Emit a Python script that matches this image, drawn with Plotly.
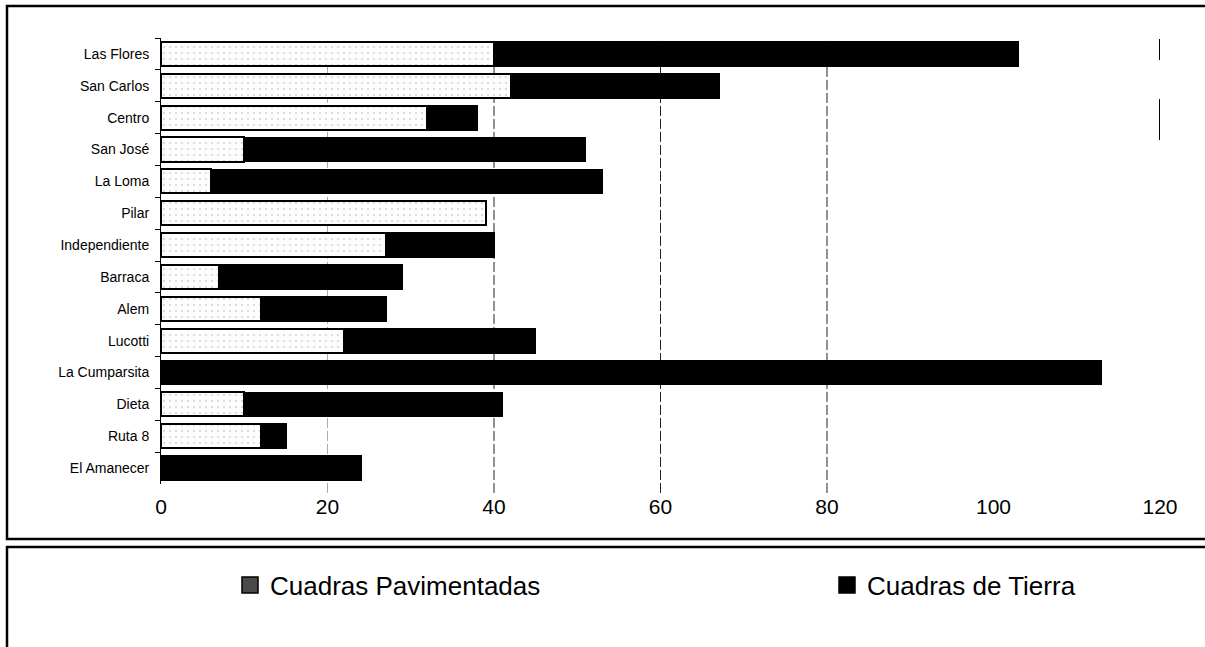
import plotly.graph_objects as go

barrios = ["Las Flores", "San Carlos", "Centro", "San José", "La Loma", "Pilar",
           "Independiente", "Barraca", "Alem", "Lucotti", "La Cumparsita",
           "Dieta", "Ruta 8", "El Amanecer"]
pavimentadas = [40, 42, 32, 10, 6, 39, 27, 7, 12, 22, 0, 10, 12, 0]
tierra = [63, 25, 6, 41, 47, 0, 13, 22, 15, 23, 113, 31, 3, 24]
x_ticks = [0, 20, 40, 60, 80, 100, 120]
grid_x = [20, 40, 60, 80]

W, H = 1205, 647
L, R, T, B = 161, 45, 38, 163
PW, PH = W - L - R, H - T - B


def px2x(px):
    return (px - L) / PW


def py2y(py):
    return (H - B - py) / PH


FONT = "Liberation Sans, Arial, sans-serif"

fig = go.Figure()
fig.add_trace(go.Bar(
    y=barrios, x=pavimentadas, orientation="h", name="Cuadras Pavimentadas",
    marker=dict(color="white", line=dict(color="black", width=2),
                pattern=dict(shape=".", fgcolor="#a8a8a8", bgcolor="#fdfdfd",
                             size=6, solidity=0.1)),
    showlegend=False,
))
fig.add_trace(go.Bar(
    y=barrios, x=tierra, orientation="h", name="Cuadras de Tierra",
    marker=dict(color="black", line=dict(color="black", width=1.5)),
    showlegend=False,
))
# legend entries
fig.add_trace(go.Scatter(
    x=[None], y=[None], mode="markers", name="Cuadras Pavimentadas",
    legend="legend",
    marker=dict(symbol="square", size=17, color="#4a4a4a",
                line=dict(color="black", width=1.5)),
))
fig.add_trace(go.Scatter(
    x=[None], y=[None], mode="markers", name="Cuadras de Tierra",
    legend="legend2",
    marker=dict(symbol="square", size=17, color="black",
                line=dict(color="black", width=1.5)),
))

shapes = []
for gx in grid_x:
    shapes.append(dict(type="line", xref="x", yref="paper", x0=gx, x1=gx,
                       y0=-0.02, y1=1.0, layer="below",
                       line=dict(color="#222" if gx != 20 else "#aaa",
                                 width=1, dash="10px,3px")))
# outer chart frame
shapes.append(dict(type="rect", xref="paper", yref="paper",
                   x0=px2x(7), x1=px2x(1215), y0=py2y(539), y1=py2y(6),
                   line=dict(color="black", width=2.5), fillcolor="rgba(0,0,0,0)"))
# legend frame
shapes.append(dict(type="rect", xref="paper", yref="paper",
                   x0=px2x(7), x1=px2x(1215), y0=py2y(670), y1=py2y(547),
                   line=dict(color="black", width=2.5), fillcolor="rgba(0,0,0,0)"))
# remnants of right plot border
shapes.append(dict(type="line", xref="x", yref="paper", x0=120, x1=120,
                   y0=py2y(60), y1=py2y(39), line=dict(color="black", width=2)))
shapes.append(dict(type="line", xref="x", yref="paper", x0=120, x1=120,
                   y0=py2y(140), y1=py2y(99), line=dict(color="black", width=2)))

legend_common = dict(orientation="h", xanchor="left", yanchor="middle",
                     font=dict(size=26, family=FONT, color="black"),
                     bgcolor="rgba(0,0,0,0)")

fig.update_layout(
    width=W, height=H,
    margin=dict(l=L, r=R, t=T, b=B),
    paper_bgcolor="white", plot_bgcolor="white",
    barmode="stack", bargap=0.24,
    font=dict(family=FONT, color="black"),
    shapes=shapes,
    legend=dict(x=px2x(230), y=py2y(585), **legend_common),
    legend2=dict(x=px2x(827), y=py2y(585), **legend_common),
    xaxis=dict(range=[0, 120], tickvals=x_ticks, showgrid=False, zeroline=False,
               showline=False, ticks="", ticklabelstandoff=8,
               tickfont=dict(size=21, family=FONT, color="black")),
    yaxis=dict(autorange="reversed", showgrid=False, zeroline=False,
               showline=True, linecolor="black", linewidth=1,
               ticks="outside", tickson="boundaries", ticklen=5, tickcolor="black",
               tickfont=dict(size=14, family=FONT, color="black"),
               ticklabelstandoff=8),
)

fig.write_html("out.html", config={"displayModeBar": False},
               post_script="document.body.style.margin='0px';")
